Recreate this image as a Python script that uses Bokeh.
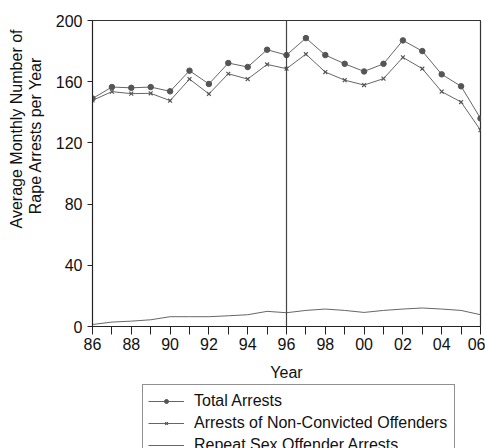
from bokeh.plotting import figure
from bokeh.models import Legend, LegendItem, FixedTicker, Span, Range1d, Title
from bokeh.layouts import column
from bokeh.embed import file_html
from bokeh.resources import INLINE

years = list(range(1986, 2007))
total = [149, 156.5, 156, 156.5, 153.7, 167.2, 158.5, 172.2, 169.6, 180.9, 177.4,
         188.5, 177.4, 171.7, 166.7, 171.7, 187, 180, 164.8, 157, 136]
nonconv = [147.8, 153.5, 152.2, 152.4, 147.6, 161.7, 152, 165.2, 161.7, 171.3, 168.5,
           178, 166.3, 161, 157.8, 162, 175.9, 168.5, 153.5, 146.7, 128.3]
repeat = [1.3, 2.9, 3.5, 4.4, 6.4, 6.4, 6.4, 7.0, 7.7, 9.9, 9.0,
          10.5, 11.4, 10.5, 9.2, 10.5, 11.4, 12.1, 11.4, 10.5, 7.7]
y_ticks = [0, 40, 80, 120, 160, 200]
x_labels = {y: (f"{y % 100:02d}" if y % 2 == 0 else "") for y in years}
series_names = ["Total Arrests", "Arrests of Non-Convicted Offenders", "Repeat Sex Offender Arrests"]
y_title_lines = ["Average Monthly Number of", "Rape Arrests per Year"]

FONT = "Liberation Sans"
GRAY = "#666666"
MK = "#555555"
FS = "16px"

p = figure(width=485, height=383, output_backend="svg", toolbar_location=None,
           x_range=Range1d(1986, 2006), y_range=Range1d(0, 200),
           min_border_left=92, min_border_top=20, min_border_right=5, min_border_bottom=57)
p.grid.visible = False
p.outline_line_color = "#333333"
p.outline_line_width = 1.2

p.line(years, total, line_color=GRAY, line_width=1)
p.scatter(years, total, marker="circle", size=5.5, fill_color=MK, line_color=MK)
p.line(years, nonconv, line_color=GRAY, line_width=1)
p.scatter(years, nonconv, marker="x", size=5.5, line_color=MK, line_width=1.2)
p.line(years, repeat, line_color=GRAY, line_width=1)

p.add_layout(Span(location=1996, dimension="height", line_color="#444444", line_width=1.2))

xa = p.xaxis[0]
xa.ticker = FixedTicker(ticks=years)
xa.major_label_overrides = {y: x_labels[y] for y in years}
xa.major_tick_in = 0
xa.major_tick_out = 8
xa.minor_tick_line_color = None
xa.axis_label = "Year"
xa.axis_label_standoff = 11
xa.major_label_standoff = 3

ya = p.yaxis[0]
ya.ticker = FixedTicker(ticks=y_ticks)
ya.major_tick_in = 0
ya.major_tick_out = 5
ya.minor_tick_line_color = None
ya.major_label_standoff = 5

for ax in (xa, ya):
    ax.axis_line_color = "#222222"
    ax.major_tick_line_color = "#222222"
    ax.major_label_text_font = FONT
    ax.major_label_text_font_size = FS
    ax.major_label_text_color = "#111111"
    ax.axis_label_text_font = FONT
    ax.axis_label_text_font_size = FS
    ax.axis_label_text_font_style = "normal"
    ax.axis_label_text_color = "#111111"

# small spacer between the y tick labels and the two-line title
ya.axis_label = " "
ya.axis_label_text_font_size = "1px"
ya.axis_label_standoff = 5

# two-line y-axis title, placed toward the top like the reference
for line_text, so, off in ((y_title_lines[1], 0, 36), (y_title_lines[0], 0, 9)):
    t = Title(text=line_text, align="right", offset=off, standoff=so,
              text_font=FONT, text_font_size=FS, text_font_style="normal",
              text_color="#111111")
    p.add_layout(t, "left")

# legend strip below the plot
q = figure(width=485, height=65, output_backend="svg", toolbar_location=None,
           x_range=Range1d(0, 1), y_range=Range1d(0, 1),
           min_border_left=92, min_border_right=5, min_border_top=0, min_border_bottom=0)
q.axis.visible = False
q.grid.visible = False
q.outline_line_color = None
l1 = q.line(years, total, line_color=GRAY, line_width=1)
s1 = q.scatter(years, total, marker="circle", size=5.5, fill_color=MK, line_color=MK)
l2 = q.line(years, nonconv, line_color=GRAY, line_width=1)
s2 = q.scatter(years, nonconv, marker="x", size=5.5, line_color=MK, line_width=1.2)
l3 = q.line(years, repeat, line_color=GRAY, line_width=1)

legend = Legend(items=[
    LegendItem(label=series_names[0], renderers=[l1, s1]),
    LegendItem(label=series_names[1], renderers=[l2, s2]),
    LegendItem(label=series_names[2], renderers=[l3]),
], location=(50, -13))
legend.label_text_font = FONT
legend.label_text_font_size = FS
legend.label_text_color = "#111111"
legend.glyph_width = 36
legend.glyph_height = 10
legend.label_height = 21
legend.label_width = 255
legend.label_standoff = 10
legend.spacing = 1
legend.padding = 5
legend.margin = 0
legend.border_line_color = "#222222"
legend.border_line_width = 1
legend.background_fill_alpha = 1
q.add_layout(legend, "center")

layout = column(p, q, spacing=0)
open("out.html", "w").write(file_html(layout, INLINE))
